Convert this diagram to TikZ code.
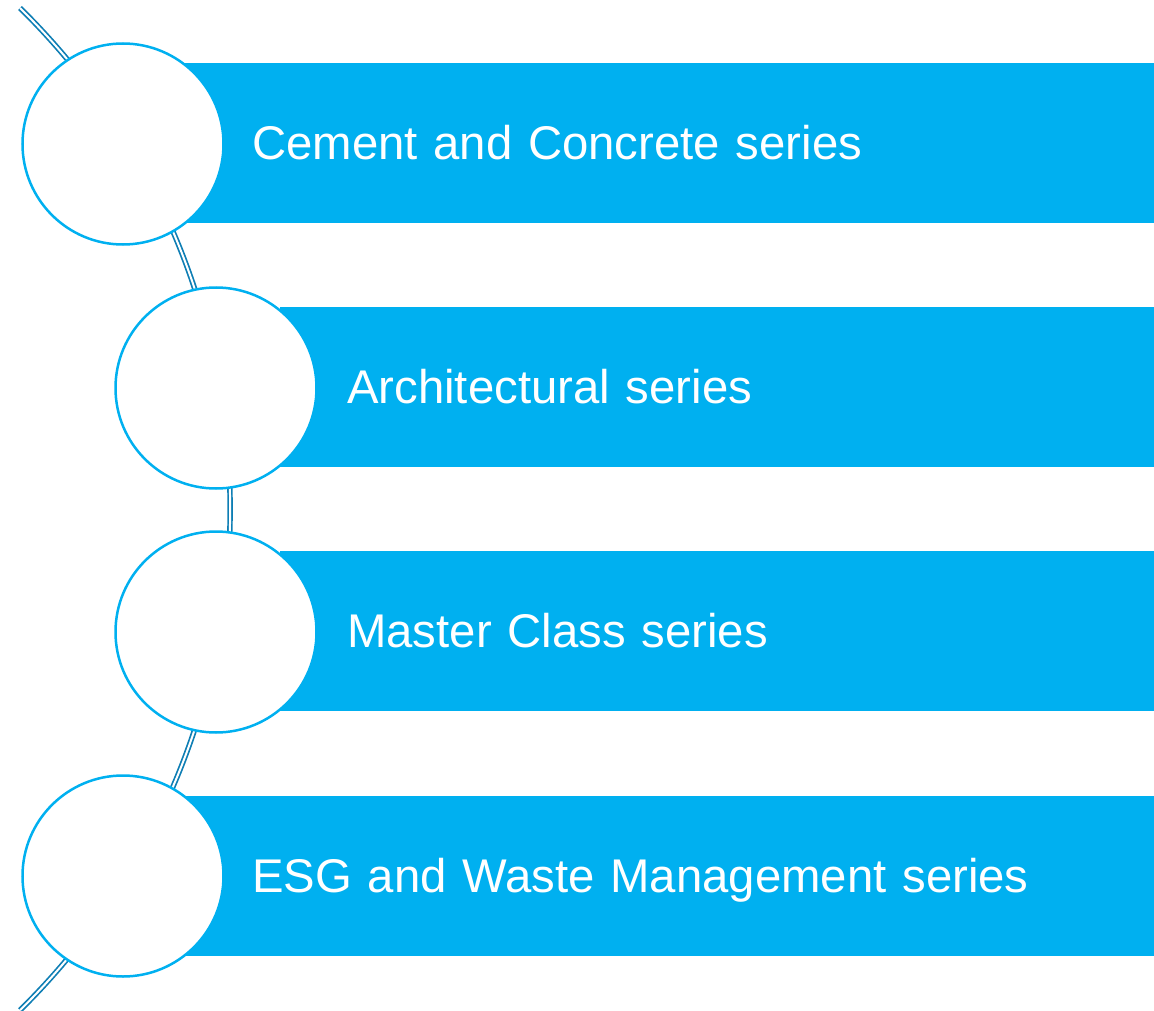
\documentclass[tikz,border=0pt]{standalone}
\usepackage{fontspec}
\setmainfont{Liberation Sans}
\usetikzlibrary{positioning}
\definecolor{skyblue}{RGB}{0,176,240}
\definecolor{railblue}{RGB}{14,126,180}

\begin{document}
\begin{tikzpicture}[x=1pt,y=-1pt,
    band/.style={fill=skyblue, text=white, anchor=west, align=left,
        minimum height=160pt, inner xsep=67pt, inner ysep=0pt,
        text height=33.9pt, text depth=0pt,
        font=\fontsize{47.3}{56}\selectfont},
    bubble/.style={circle, draw=skyblue, line width=2.5pt, fill=white,
        minimum size=201pt, inner sep=0pt},
    rail/.style={draw=railblue, double=white, double distance=2pt, line width=1.7pt}]
\useasboundingbox (0,0) rectangle (1154,1011);

% the curved rail behind the circles
\coordinate (railtop) at (20,8);
\draw[rail] (railtop) arc [start angle=45.5, end angle=-45.5, radius=702.6pt];

% bands with the series names
\node[band, text width=835pt] (cem) at (185,143) {Cement and Concrete series};
\node[band, text width=740pt] (arch) at (280,387) {Architectural series};
\node[band, text width=740pt] (mast) at (280,631) {Master Class series};
\node[band, text width=835pt] (esg) at (185,876) {ESG and Waste Management series};

% circles on the rail
\node[bubble] (c_cem) at (123,144) {};
\node[bubble] (c_arch) at (216,388) {};
\node[bubble] (c_mast) at (216,632) {};
\node[bubble] (c_esg) at (123,876) {};
\end{tikzpicture}
\end{document}
